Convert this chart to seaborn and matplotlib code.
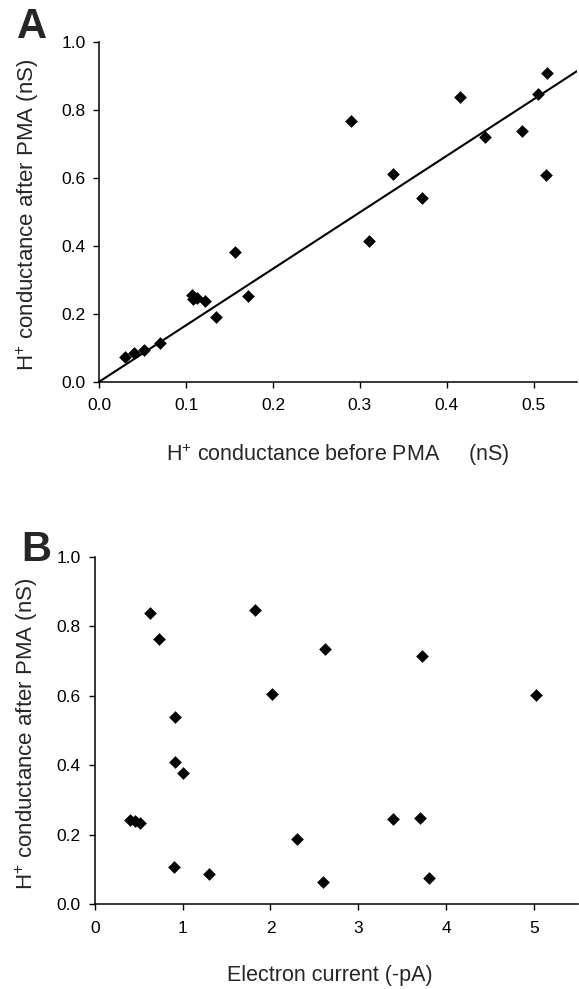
import numpy as np
import pandas as pd
import matplotlib
matplotlib.use("Agg")
import matplotlib.pyplot as plt
import seaborn as sns

# panel A: H+ conductance before vs after PMA (nS)
before_pma = [0.030, 0.040, 0.051, 0.070, 0.107, 0.108, 0.113, 0.122, 0.134, 0.156, 0.171,
              0.310, 0.290, 0.338, 0.372, 0.415, 0.444, 0.487, 0.505, 0.515, 0.514]
after_pma_a = [0.072, 0.085, 0.093, 0.113, 0.255, 0.242, 0.245, 0.237, 0.191, 0.382, 0.252,
               0.413, 0.767, 0.611, 0.540, 0.837, 0.719, 0.736, 0.846, 0.909, 0.609]

# panel B: electron current (-pA) vs H+ conductance after PMA (nS)
electron_current = [0.40, 0.46, 0.51, 0.91, 0.91, 1.01, 0.90, 1.30, 2.30, 2.60, 3.40, 3.70, 3.80,
                    0.63, 0.73, 1.82, 2.02, 2.62, 3.72, 5.02]
after_pma_b = [0.243, 0.241, 0.233, 0.539, 0.409, 0.378, 0.108, 0.087, 0.187, 0.065, 0.246, 0.249, 0.076,
               0.839, 0.765, 0.846, 0.607, 0.735, 0.716, 0.602]

A_XTICKS = [0.0, 0.1, 0.2, 0.3, 0.4, 0.5]
B_XTICKS = [0, 1, 2, 3, 4, 5]
Y_TICKS = [0.0, 0.2, 0.4, 0.6, 0.8, 1.0]

sns.set_style("ticks")
plt.rcParams["font.family"] = ["Liberation Sans", "DejaVu Sans"]
plt.rcParams["mathtext.fontset"] = "custom"
plt.rcParams["mathtext.rm"] = "Liberation Sans"
plt.rcParams["mathtext.it"] = "Liberation Sans:italic"
plt.rcParams["mathtext.bf"] = "Liberation Sans:bold"

TICK_FS = 12.5
LABEL_FS = 16


def style_axis(ax):
    sns.despine(ax=ax)
    for side in ["left", "bottom"]:
        ax.spines[side].set_linewidth(1.1)
        ax.spines[side].set_color("black")
    ax.tick_params(axis="both", direction="out", length=4, width=1.0,
                   labelsize=TICK_FS, colors="black")
    ax.tick_params(axis="x", pad=8)
    ax.tick_params(axis="y", pad=6)
    ax.set_facecolor("white")


fig = plt.figure(figsize=(5.79, 9.89), dpi=100)
fig.patch.set_facecolor("white")

# ---- panel A
ax1 = fig.add_axes([0.1715, 0.6141, 0.825, 0.3438])
df_a = pd.DataFrame({"before": before_pma, "after": after_pma_a})
sns.scatterplot(data=df_a, x="before", y="after", marker="D", color="black",
                s=42, linewidth=0, ax=ax1, zorder=3)

# least squares fit through the origin
xa = np.array(before_pma)
ya = np.array(after_pma_a)
slope = np.sum(xa * ya) / np.sum(xa * xa)
fit_x = np.array([0.0, 0.55])
ax1.plot(fit_x, slope * fit_x, color="black", linewidth=1.5, zorder=2)

ax1.set_xlim(0, 0.55)
ax1.set_ylim(0, 1.0)
ax1.set_xticks(A_XTICKS)
ax1.set_xticklabels([f"{t:.1f}" for t in A_XTICKS])
ax1.set_yticks(Y_TICKS)
ax1.set_yticklabels([f"{t:.1f}" for t in Y_TICKS])
style_axis(ax1)
ax1.set_xlabel("H$^{+}$ conductance before PMA     (nS)", fontsize=LABEL_FS - 0.5)
ax1.set_ylabel("H$^{+}$ conductance after PMA (nS)", fontsize=LABEL_FS)
ax1.xaxis.set_label_coords(0.5, -0.177)
ax1.yaxis.set_label_coords(-0.122, 0.49)

# ---- panel B
ax2 = fig.add_axes([0.1636, 0.0856, 0.8347, 0.3512])
df_b = pd.DataFrame({"current": electron_current, "after": after_pma_b})
sns.scatterplot(data=df_b, x="current", y="after", marker="D", color="black",
                s=42, linewidth=0, ax=ax2, zorder=3)
ax2.set_xlim(0, 5.5)
ax2.set_ylim(0, 1.0)
ax2.set_xticks(B_XTICKS)
ax2.set_yticks(Y_TICKS)
ax2.set_yticklabels([f"{t:.1f}" for t in Y_TICKS])
style_axis(ax2)
ax2.set_xlabel("Electron current (-pA)", fontsize=LABEL_FS - 0.5)
ax2.set_ylabel("H$^{+}$ conductance after PMA (nS)", fontsize=LABEL_FS)
ax2.xaxis.set_label_coords(0.487, -0.175)
ax2.yaxis.set_label_coords(-0.113, 0.49)

# panel letters
fig.text(0.029, 0.993, "A", fontsize=30, fontweight="bold", va="top", ha="left")
fig.text(0.037, 0.4642, "B", fontsize=30, fontweight="bold", va="top", ha="left")

fig.savefig("out.png", dpi=100, facecolor="white")
